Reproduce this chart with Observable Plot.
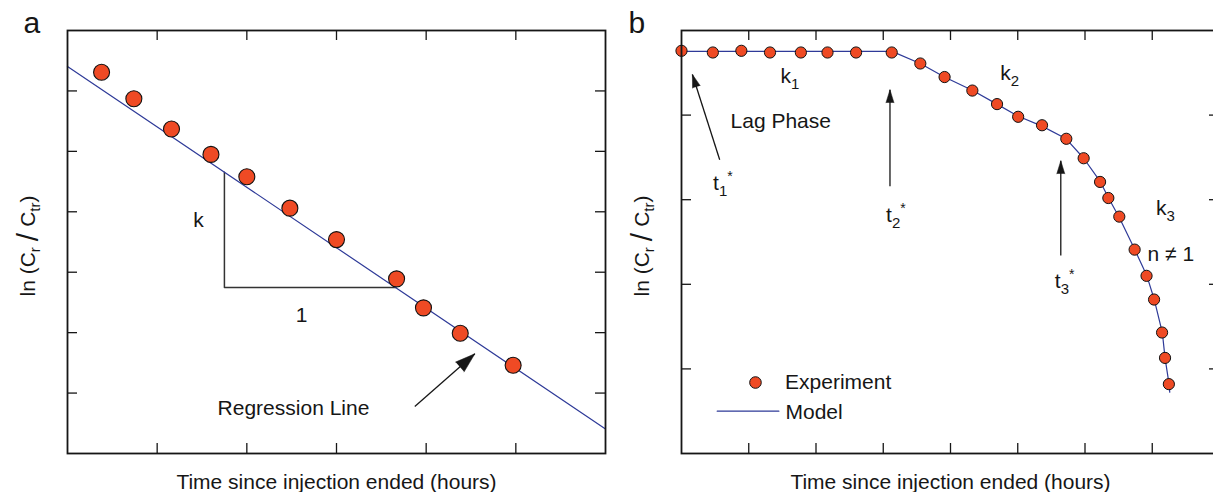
<!DOCTYPE html>
<html><head><meta charset="utf-8">
<script src="https://cdn.jsdelivr.net/npm/d3@7"></script>
<script src="https://cdn.jsdelivr.net/npm/@observablehq/plot@0.6"></script>
<style>
html,body{margin:0;padding:0;background:#fff;overflow:hidden;width:1213px;height:492px;}
#wrap{position:relative;width:1213px;height:492px;overflow:hidden;background:#fff;}
#pa,#pb{position:absolute;top:0;width:612px;height:492px;}
#pa{left:0;} #pb{left:612px;}
#wrap svg{overflow:visible;max-width:none !important;width:612px !important;height:492px !important;}
</style></head><body><div id="wrap"><div id="pa"></div><div id="pb"></div></div>
<script>
// ---------- Panel a: first-order decay ----------
const aTime    = [0.38, 0.74, 1.16, 1.60, 2.00, 2.48, 3.00, 3.67, 3.97, 4.38, 4.97];
const aLnRatio = [6.31, 5.87, 5.37, 4.95, 4.58, 4.06, 3.54, 2.89, 2.41, 1.99, 1.46];
const aFitTime = [0, 6];
const aFitLn   = [6.405, 0.405];
const aTriX    = [1.75, 1.75, 3.66];
const aTriY    = [4.655, 2.745, 2.745];
const aXTicks  = [1, 2, 3, 4, 5];
const aYTicks  = [1, 2, 3, 4, 5, 6];
const aLabels  = ["k", "1", "Regression Line"];
const aLabelX  = [1.46, 2.61, 2.52];
const aLabelY  = [3.74, 2.17, 0.63];
const aArrowFrom = [3.873, 0.778];
const aArrowTo   = [4.543, 1.65];

// ---------- Panel b: multi-phase decay ----------
const bTime = [0, 0.466, 0.89, 1.316, 1.775, 2.171, 2.596, 3.126, 3.551, 3.912, 4.325, 4.692, 5.006,
               5.361, 5.722, 5.98, 6.224, 6.347, 6.51, 6.738, 6.915, 7.027, 7.146, 7.19, 7.247];
const bLnRatio = [4.76, 4.74, 4.76, 4.74, 4.74, 4.74, 4.74, 4.74, 4.61, 4.45, 4.29, 4.13, 3.98,
                  3.88, 3.72, 3.49, 3.21, 3.02, 2.80, 2.41, 2.10, 1.82, 1.43, 1.13, 0.82];
const bModelTime = [0, 3.13, 3.55, 3.91, 4.33, 4.69, 5.0, 5.36, 5.72, 5.98, 6.23, 6.35, 6.51, 6.74, 6.92, 7.03, 7.15, 7.19, 7.25, 7.26];
const bModelLn   = [4.753, 4.753, 4.61, 4.45, 4.29, 4.13, 3.99, 3.87, 3.72, 3.49, 3.21, 3.02, 2.79, 2.41, 2.10, 1.82, 1.43, 1.13, 0.82, 0.725];
const bXTicks = [1, 2, 3, 4, 5, 6, 7];
const bYTicks = [1, 2, 3, 4];
const bLabels = ["k1", "Lag Phase", "k2", "k3", "n \u2260 1", "t1*", "t2*", "t3*"];
const bLabelX = [1.473, 0.729, 4.740, 7.054, 6.930, 0.470, 3.042, 5.551];
const bLabelY = [4.385, 3.842, 4.409, 2.825, 2.281, 3.109, 2.734, 1.959];
const bArrowFromX = [0.568, 3.10, 5.64];
const bArrowFromY = [3.472, 3.16, 2.34];
const bArrowToX   = [0.162, 3.10, 5.64];
const bArrowToY   = [4.48, 4.30, 3.46];
const bLegendLabels = ["Experiment", "Model"];
const bLegendTextX = [1.540, 1.546];
const bLegendTextY = [0.757, 0.410];
const bLegendDot = [1.10, 0.839];
const bLegendLineX = [0.531, 1.448];
const bLegendLineY = [0.50, 0.50];

const yTitle = "ln (Cr/Ctr)";
const xTitle = "Time since injection ended (hours)";

// ---------- styling ----------
const FONT = "'Liberation Sans', Arial, Helvetica, sans-serif";
const DOT = "#EF4A24", LINE = "#2E3A98", INK = "#161616";
const W = 612, H = 492;
const FS = 21;

function angle(x0, y0, x1, y1, kx, ky) {
  return Math.atan2((x1 - x0) * kx, (y1 - y0) * ky) * 180 / Math.PI;
}

function panel(opts) {
  const {m, xDomain, yDomain, xTicks, yTicks, letter, letterDx, marks} = opts;
  const fw = W - m.l - m.r, fh = H - m.t - m.b;
  const tl = 10;
  return Plot.plot({
    width: W, height: H,
    marginLeft: m.l, marginRight: m.r, marginTop: m.t, marginBottom: m.b,
    x: {domain: xDomain, axis: null},
    y: {domain: yDomain, axis: null},
    style: {fontFamily: FONT, fontSize: FS + "px", color: INK, background: "transparent", overflow: "visible"},
    marks: [
      ...marks,
      Plot.ruleX(xTicks, {x: d => d, insetBottom: fh - tl, stroke: INK, strokeWidth: 1.3}),
      Plot.ruleX(xTicks, {x: d => d, insetTop: fh - tl, stroke: INK, strokeWidth: 1.3}),
      Plot.ruleY(yTicks, {y: d => d, insetRight: fw - tl, stroke: INK, strokeWidth: 1.3}),
      Plot.ruleY(yTicks, {y: d => d, insetLeft: fw - tl, stroke: INK, strokeWidth: 1.3}),
      Plot.frame({stroke: INK, strokeWidth: 1.8}),
      Plot.text([yTitle], {text: d => d, frameAnchor: "left", dx: -33, dy: 4, rotate: -90, textAnchor: "middle", lineAnchor: "bottom", fontSize: FS, fill: INK}),
      Plot.text([xTitle], {text: d => d, frameAnchor: "bottom", dy: 35, textAnchor: "middle", lineAnchor: "bottom", fontSize: FS, fill: INK}),
      Plot.text([letter], {text: d => d, frameAnchor: "top-left", dx: letterDx, dy: 2, textAnchor: "start", lineAnchor: "bottom", fontSize: 30, fill: INK})
    ]
  });
}

// panel a
const aPts = aTime.map((t, i) => ({t, v: aLnRatio[i]}));
const aFit = aFitTime.map((t, i) => ({t, v: aFitLn[i]}));
const aTri = aTriX.map((t, i) => ({t, v: aTriY[i]}));
const aLab = aLabels.map((s, i) => ({s, t: aLabelX[i], v: aLabelY[i]}));
const kxA = (W - 67 - 7) / 6, kyA = (H - 30 - 39) / 7;
const aArrow = [{x1: aArrowFrom[0], y1: aArrowFrom[1], x2: aArrowTo[0], y2: aArrowTo[1],
  rot: angle(aArrowFrom[0], aArrowFrom[1], aArrowTo[0], aArrowTo[1], kxA, kyA)}];

const plotA = panel({
  m: {l: 67, r: 7, t: 30, b: 39}, xDomain: [0, 6], yDomain: [0, 7],
  xTicks: aXTicks, yTicks: aYTicks, letter: "a", letterDx: -44,
  marks: [
    Plot.line(aTri, {x: "t", y: "v", stroke: "#333", strokeWidth: 1.5}),
    Plot.line(aFit, {x: "t", y: "v", stroke: LINE, strokeWidth: 1.2}),
    Plot.dot(aPts, {x: "t", y: "v", r: 8, fill: DOT, stroke: "#111", strokeWidth: 1.1}),
    Plot.text(aLab, {x: "t", y: "v", text: "s", textAnchor: "middle", lineAnchor: "bottom", fontSize: FS, fill: INK}),
    Plot.link(aArrow, {x1: "x1", y1: "y1", x2: "x2", y2: "y2", stroke: INK, strokeWidth: 1.3}),
    Plot.vector(aArrow, {x: "x2", y: "y2", rotate: "rot", length: 20, shape: "spike", r: 6.5, anchor: "end", fill: INK, stroke: INK, strokeWidth: 0.5})
  ]
});

// panel b
const bPts = bTime.map((t, i) => ({t, v: bLnRatio[i]}));
const bModel = bModelTime.map((t, i) => ({t, v: bModelLn[i]}));
const bLab = bLabels.map((s, i) => ({s, t: bLabelX[i], v: bLabelY[i]}));
const kxB = (W - 69 - 5) / 8, kyB = (H - 30 - 39) / 5;
const bArrows = bArrowFromX.map((x1, i) => ({x1, y1: bArrowFromY[i], x2: bArrowToX[i], y2: bArrowToY[i],
  rot: angle(x1, bArrowFromY[i], bArrowToX[i], bArrowToY[i], kxB, kyB)}));
const bLegText = bLegendLabels.map((s, i) => ({s, t: bLegendTextX[i], v: bLegendTextY[i]}));

const plotB = panel({
  m: {l: 69, r: 5, t: 30, b: 39}, xDomain: [0, 8], yDomain: [0, 5],
  xTicks: bXTicks, yTicks: bYTicks, letter: "b", letterDx: -53,
  marks: [
    Plot.line(bModel, {x: "t", y: "v", stroke: LINE, strokeWidth: 1.2}),
    Plot.dot(bPts, {x: "t", y: "v", r: 5.6, fill: DOT, stroke: "#111", strokeWidth: 1}),
    Plot.text(bLab, {x: "t", y: "v", text: "s", textAnchor: "start", lineAnchor: "bottom", fontSize: FS, fill: INK}),
    Plot.link(bArrows, {x1: "x1", y1: "y1", x2: "x2", y2: "y2", stroke: INK, strokeWidth: 1.3}),
    Plot.vector(bArrows, {x: "x2", y: "y2", rotate: "rot", length: 13, shape: "spike", r: 4, anchor: "end", fill: INK, stroke: INK, strokeWidth: 0.5}),
    Plot.dot([bLegendDot], {x: d => d[0], y: d => d[1], r: 5.8, fill: DOT, stroke: "#111", strokeWidth: 1}),
    Plot.line(bLegendLineX.map((t, i) => ({t, v: bLegendLineY[i]})), {x: "t", y: "v", stroke: LINE, strokeWidth: 1.2}),
    Plot.text(bLegText, {x: "t", y: "v", text: "s", textAnchor: "start", lineAnchor: "bottom", fontSize: FS, fill: INK})
  ]
});

document.getElementById("pa").appendChild(plotA);
document.getElementById("pb").appendChild(plotB);

// ---------- rich text (subscripts / superscripts) ----------
const SUBS = 15;
const rich = {
  "k1": [["k"], ["1", SUBS, 6]],
  "k2": [["k"], ["2", SUBS, 6]],
  "k3": [["k"], ["3", SUBS, 6]],
  "t1*": [["t"], ["1", SUBS, 6], ["*", 14, -15]],
  "t2*": [["t"], ["2", SUBS, 6], ["*", 14, -15]],
  "t3*": [["t"], ["3", SUBS, 6], ["*", 14, -15]],
  "ln (Cr/Ctr)": [["ln (C"], ["r", SUBS, 5], ["\u2009/\u2009", 30, -2], ["C", FS, -3], ["tr", SUBS, 5], [")", FS, -5]]
};
for (const svg of [plotA, plotB]) {
  svg.querySelectorAll("text").forEach(el => {
    const parts = rich[el.textContent];
    if (!parts) return;
    while (el.firstChild) el.removeChild(el.firstChild);
    for (const [t, size, dy] of parts) {
      const ts = document.createElementNS("http://www.w3.org/2000/svg", "tspan");
      ts.textContent = t;
      if (size) ts.setAttribute("font-size", size);
      if (dy) ts.setAttribute("dy", dy);
      el.appendChild(ts);
    }
  });
}
</script></body></html>
